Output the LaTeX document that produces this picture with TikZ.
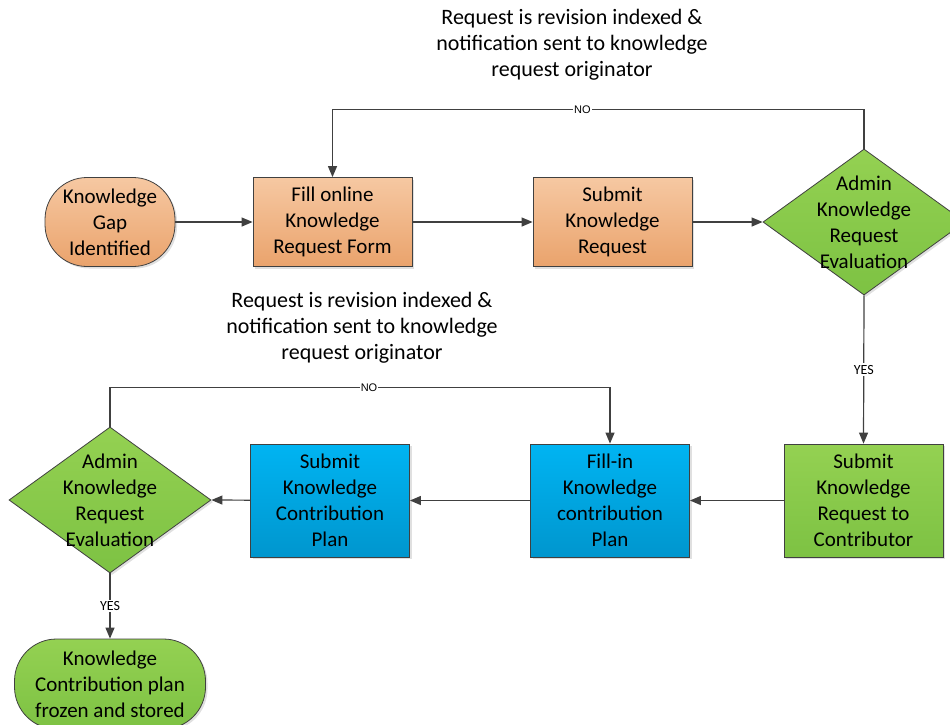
\documentclass[tikz,border=0pt]{standalone}
\usepackage{fontspec}
\setmainfont{Carlito}
\newfontfamily\labelfont{Liberation Sans}
\usetikzlibrary{shapes.geometric,arrows.meta,shadows}

\definecolor{edge}{HTML}{404040}
\definecolor{orTop}{HTML}{F6C8A2}
\definecolor{orBot}{HTML}{EAA36C}
\definecolor{blTop}{HTML}{00B4F2}
\definecolor{blBot}{HTML}{0096CE}
\definecolor{grTop}{HTML}{94D152}
\definecolor{grBot}{HTML}{7DC243}

\tikzset{
  shape base/.style={draw=edge, line width=0.8pt, align=center, inner sep=0pt,
    font=\fontsize{21}{26}\selectfont, text=black,
    drop shadow={shadow xshift=2pt, shadow yshift=-2pt, fill=black, opacity=0.12}},
  orange/.style={top color=orTop, bottom color=orBot},
  blue/.style={top color=blTop, bottom color=blBot},
  green/.style={top color=grTop, bottom color=grBot},
  process/.style={shape base, rectangle, minimum width=159pt},
  terminal/.style={shape base, rectangle, rounded corners=42pt},
  decision/.style={shape base, diamond, minimum width=202pt, minimum height=146pt},
  dectext/.style={align=center, font=\fontsize{21}{26}\selectfont, inner sep=0pt},
  note/.style={align=center, font=\fontsize{22}{26}\selectfont},
  flow/.style={draw=edge, line width=1.2pt, -{Triangle[length=11pt,width=9pt]}},
  nolbl/.style={fill=white, inner sep=1pt, font=\labelfont\fontsize{11}{13}\selectfont},
  yeslbl/.style={fill=white, inner sep=1.5pt, font=\fontsize{14}{16}\selectfont},
}

\begin{document}
\begin{tikzpicture}[x=1pt, y=-1pt]
  \useasboundingbox (0,0) rectangle (950,724);
  \clip (0,0) rectangle (950,724);

  % upper row
  \node[terminal, orange, minimum width=130pt, minimum height=89pt] (gap) at (110,222)
    {Knowledge\\Gap\\Identified};
  \node[process, orange, minimum height=89pt] (fill) at (332.5,222)
    {Fill online\\Knowledge\\Request Form};
  \node[process, orange, minimum height=89pt] (submit) at (612.5,222)
    {Submit\\Knowledge\\Request};
  \node[decision, green] (eval1) at (864,222) {};
  \node[dectext] (eval1t) at (eval1) {Admin\\Knowledge\\Request\\Evaluation};

  % lower row
  \node[process, green, minimum height=113pt] (contrib) at (863.5,500.5)
    {Submit\\Knowledge\\Request to\\Contributor};
  \node[process, blue, minimum height=113pt] (fillin) at (610,500.5)
    {Fill-in\\Knowledge\\contribution\\Plan};
  \node[process, blue, minimum height=113pt] (plan) at (330,500.5)
    {Submit\\Knowledge\\Contribution\\Plan};
  \node[decision, green] (eval2) at (110,500) {};
  \node[dectext] (eval2t) at (eval2) {Admin\\Knowledge\\Request\\Evaluation};

  \node[terminal, green, minimum width=191pt, minimum height=90pt] (frozen) at (110,684)
    {Knowledge\\Contribution plan\\frozen and stored};

  % notes
  \node[note] (note1) at (572,45)
    {Request is revision indexed \&\\notification sent to knowledge\\request originator};
  \node[note] (note2) at (362,328)
    {Request is revision indexed \&\\notification sent to knowledge\\request originator};

  % connectors
  \draw[flow] (gap) -- (fill);
  \draw[flow] (fill) -- (submit);
  \draw[flow] (submit) -- (eval1.west);
  \draw[flow] (eval1.north) -- ++(0,-39) -| node[nolbl, pos=0.265] {NO} (fill.north);
  \draw[flow] (eval1.south) -- node[yeslbl, pos=0.5] {YES} (contrib.north);
  \draw[flow] (contrib) -- (fillin);
  \draw[flow] (fillin) -- (plan);
  \draw[flow] (plan) -- (eval2.east);
  \draw[flow] (eval2.north) -- ++(0,-39) -| node[nolbl, pos=0.259] {NO} (fillin.north);
  \draw[flow] (eval2.south) -- node[yeslbl, pos=0.5] {YES} (frozen.north);
\end{tikzpicture}
\end{document}
